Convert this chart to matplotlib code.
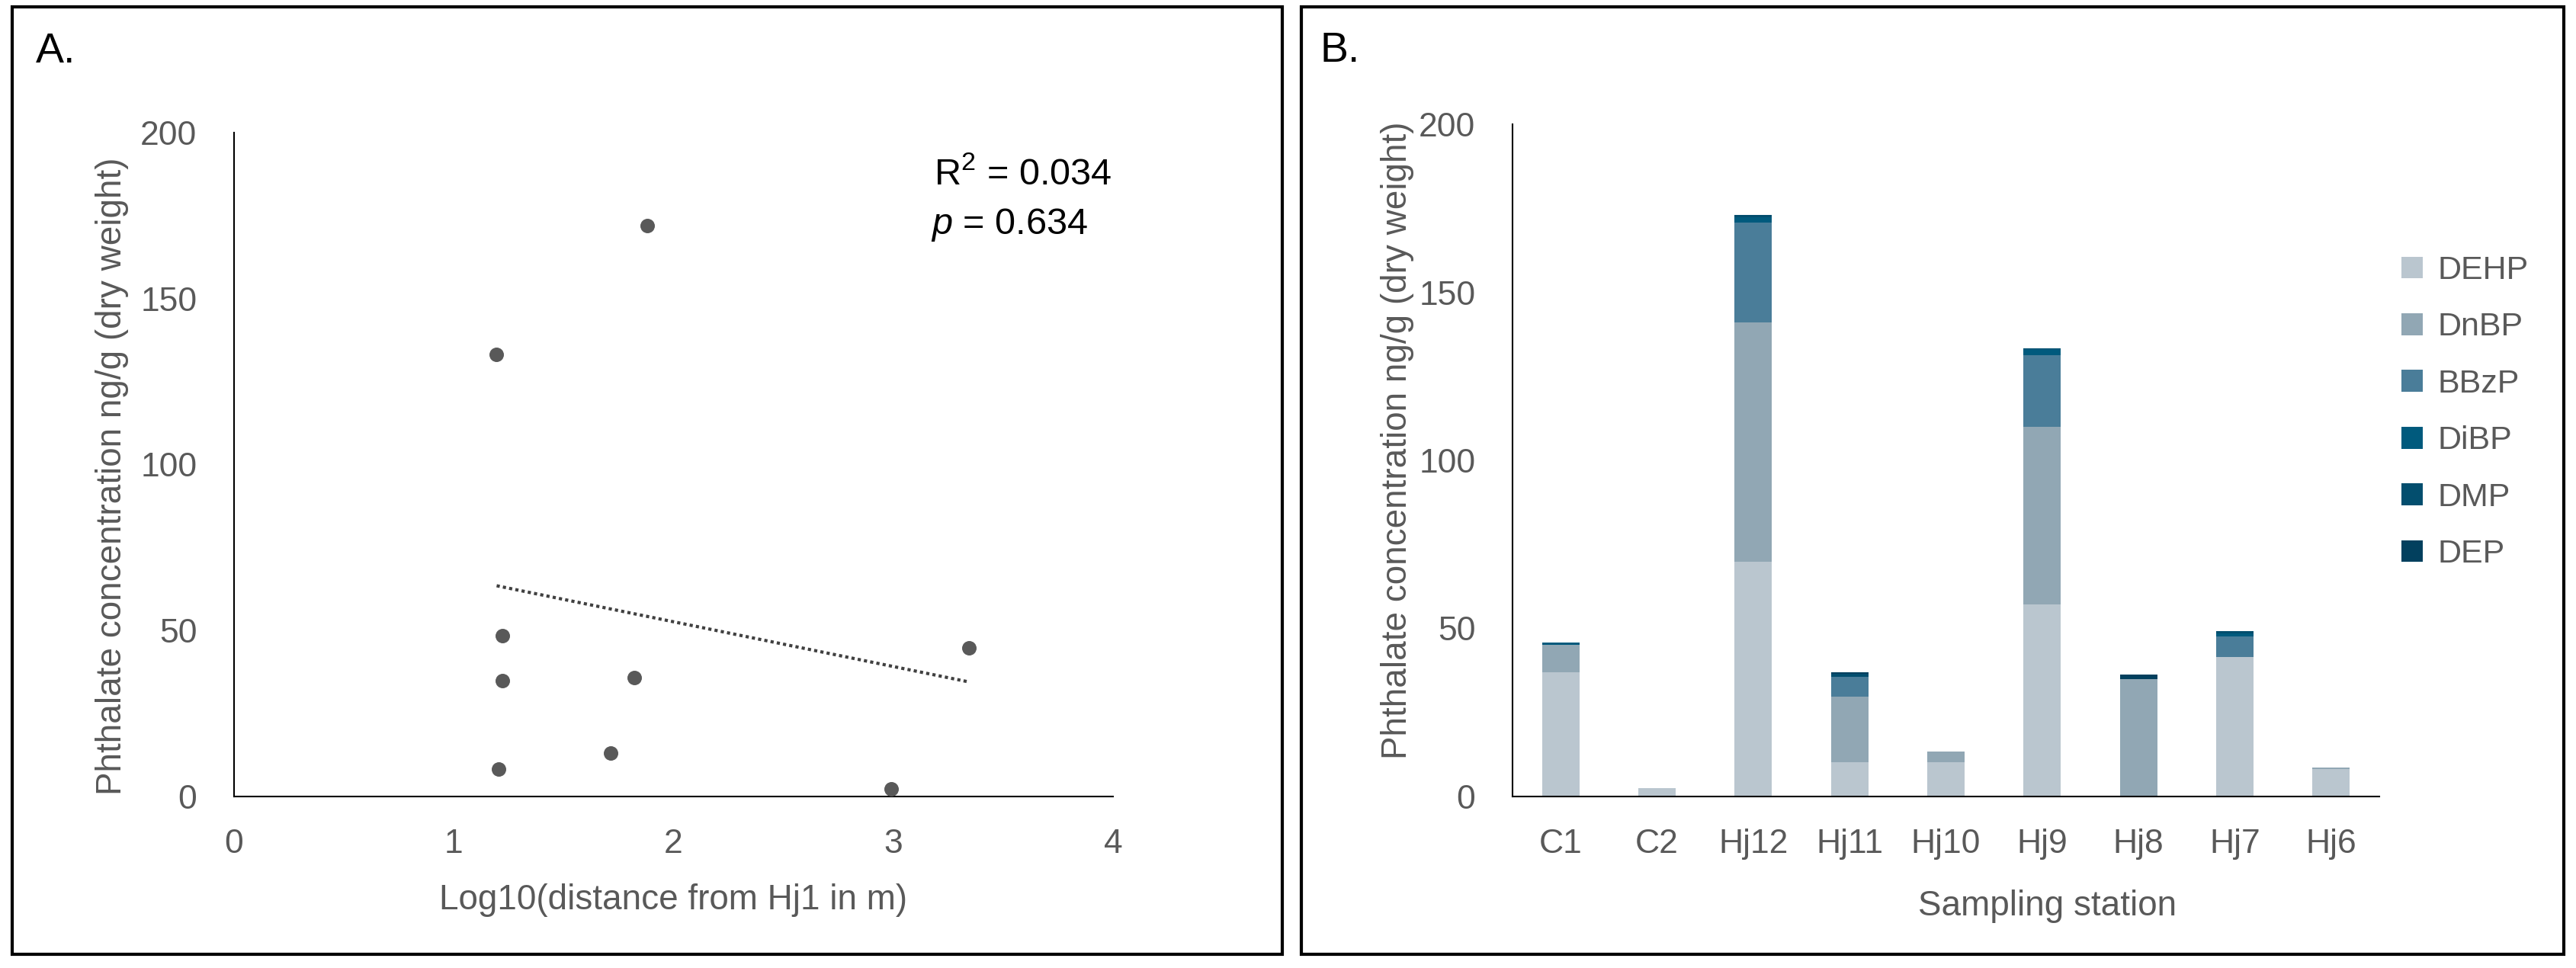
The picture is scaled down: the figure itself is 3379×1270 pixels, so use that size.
import numpy as np
import matplotlib
matplotlib.use("Agg")
import matplotlib.pyplot as plt
from matplotlib.patches import Rectangle

plt.rcParams['font.family'] = ['Liberation Sans', 'DejaVu Sans']
plt.rcParams['mathtext.fontset'] = 'custom'
plt.rcParams['mathtext.rm'] = 'Liberation Sans'
plt.rcParams['mathtext.it'] = 'Liberation Sans:italic'

# panel A: log10 distance vs total phthalate
log_dist = [1.195, 1.88, 1.22, 1.22, 1.82, 1.715, 1.205, 2.99, 3.344]
total_conc = [133.1, 172.1, 48.5, 35.0, 35.8, 13.1, 8.2, 2.2, 44.8]

# panel B: stacked phthalates per station
stations = ['C1', 'C2', 'Hj12', 'Hj11', 'Hj10', 'Hj9', 'Hj8', 'Hj7', 'Hj6']
dehp = [37.0, 2.4, 69.9, 10.3, 10.3, 57.1, 0.0, 41.5, 8.1]
dnbp = [8.2, 0.0, 71.1, 19.4, 3.0, 52.8, 35.0, 0.0, 0.5]
bbzp = [0.0, 0.0, 29.8, 5.9, 0.0, 21.5, 0.0, 6.2, 0.0]
dibp = [0.6, 0.0, 1.6, 0.0, 0.0, 1.7, 0.0, 0.8, 0.0]
dmp = [0.0, 0.0, 0.6, 1.0, 0.0, 0.3, 0.0, 0.7, 0.0]
dep = [0.0, 0.0, 0.0, 0.3, 0.0, 0.0, 1.2, 0.0, 0.0]

compounds = ['DEHP', 'DnBP', 'BBzP', 'DiBP', 'DMP', 'DEP']
colors = ['#BAC6CF', '#91A7B4', '#4A7D99', '#005A7D', '#034E6E', '#02405E']

W, H = 3379, 1270
GREY = '#595959'

fig = plt.figure(figsize=(W / 100, H / 100), dpi=100)


def frame(x0, y0, x1, y1):
    fig.add_artist(Rectangle((x0 / W, 1 - y1 / H), (x1 - x0) / W, (y1 - y0) / H,
                             transform=fig.transFigure, fill=False,
                             lw=3, ec='black'))


def style_axes(ax):
    for side in ['top', 'right']:
        ax.spines[side].set_visible(False)
    for side in ['left', 'bottom']:
        ax.spines[side].set_color('black')
        ax.spines[side].set_linewidth(1.5)
    ax.tick_params(length=0, labelsize=32, labelcolor=GREY)
    ax.tick_params(axis='y', pad=35)
    ax.tick_params(axis='x', pad=30)


frame(16, 9, 1682, 1252)
frame(1707, 9, 3363, 1252)

# ---- panel A ----
axA = fig.add_axes([307 / W, 1 - 1045 / H, 1153 / W, 871 / H])
axA.scatter(log_dist, total_conc, s=160, color=GREY, zorder=3)
coef = np.polyfit(log_dist, total_conc, 1)
xs = np.array([min(log_dist), max(log_dist)])
axA.plot(xs, np.polyval(coef, xs), ls=(0, (1, 1)), color='#404040', lw=3)
axA.set_xlim(0, 4)
axA.set_ylim(0, 200)
axA.set_xticks([0, 1, 2, 3, 4])
axA.set_yticks([0, 50, 100, 150, 200])
style_axes(axA)
axA.set_xlabel('Log10(distance from Hj1 in m)', fontsize=33, color=GREY, va='center')
axA.xaxis.set_label_coords(0.5, -0.156)
axA.set_ylabel('Phthalate concentration ng/g (dry weight)', fontsize=33, color=GREY, va='center')
axA.yaxis.set_label_coords(-0.139, 0.483)
axA.text(0.796, 0.922, 'R$^2$ = 0.034', transform=axA.transAxes, fontsize=35,
         va='baseline', ha='left')
axA.text(0.793, 0.847, '$p$ = 0.634', transform=axA.transAxes, fontsize=35,
         va='baseline', ha='left')

# ---- panel B ----
axB = fig.add_axes([1984 / W, 1 - 1045 / H, 1137 / W, 882 / H])
bottom = np.zeros(len(stations))
for name, vals, c in zip(compounds, [dehp, dnbp, bbzp, dibp, dmp, dep], colors):
    axB.bar(stations, vals, bottom=bottom, width=0.39, color=c, label=name)
    bottom += np.array(vals)
axB.set_xlim(-0.5, len(stations) - 0.5)
axB.set_ylim(0, 200)
axB.set_yticks([0, 50, 100, 150, 200])
style_axes(axB)
axB.set_xlabel('Sampling station', fontsize=33, color=GREY, va='center')
axB.xaxis.set_label_coords(0.617, -0.163)
axB.set_ylabel('Phthalate concentration ng/g (dry weight)', fontsize=33, color=GREY, va='center')
axB.yaxis.set_label_coords(-0.133, 0.53)

leg = axB.legend(loc='upper left', bbox_to_anchor=(3150 / W, 1 - 335 / H),
                 bbox_transform=fig.transFigure, frameon=False, fontsize=31,
                 handlelength=0.65, handleheight=0.65, handletextpad=0.45,
                 labelspacing=0.8, borderpad=0, borderaxespad=0)
for t in leg.get_texts():
    t.set_color(GREY)

fig.text(47 / W, 1 - 82 / H, 'A.', fontsize=40, va='baseline', ha='left')
fig.text(1731 / W, 1 - 81 / H, 'B.', fontsize=40, va='baseline', ha='left')

fig.savefig('out.png', dpi=100)
